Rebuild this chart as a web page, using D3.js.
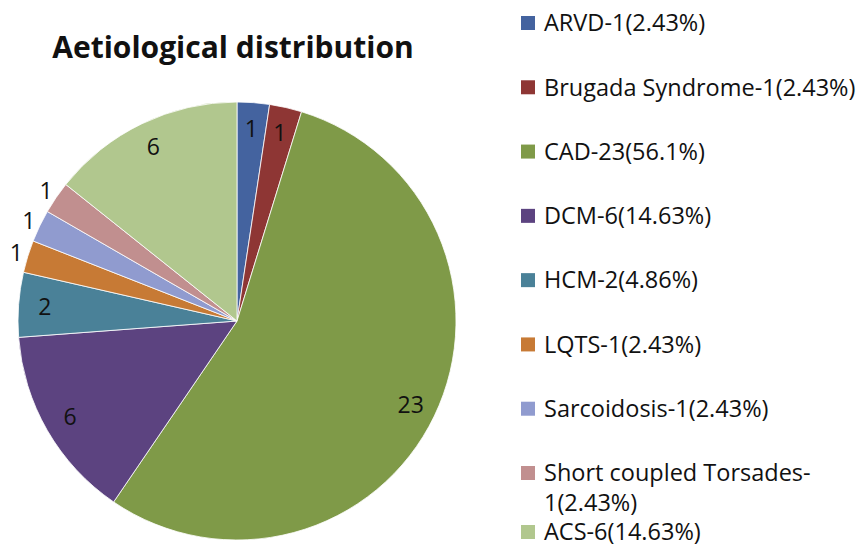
<!DOCTYPE html>
<html>
<head>
<meta charset="utf-8">
<script src="https://cdn.jsdelivr.net/npm/d3@7"></script>
<style>
  body { margin: 0; background: #fff; }
  text { font-family: "Open Sans", sans-serif; fill: #111; }
</style>
</head>
<body>
<svg id="chart" width="862" height="547"></svg>
<script>
// data
const categories = ['ARVD', 'Brugada Syndrome', 'CAD', 'DCM', 'HCM', 'LQTS', 'Sarcoidosis', 'Short coupled Torsades', 'ACS'];
const counts = [1, 1, 23, 6, 2, 1, 1, 1, 6];
const percentLabels = ['2.43%', '2.43%', '56.1%', '14.63%', '4.86%', '2.43%', '2.43%', '2.43%', '14.63%'];
const labelPlacement = ['in', 'in', 'in', 'in', 'in', 'out', 'out', 'out', 'in'];
const colors = ['#44639f', '#8e3634', '#7f9a48', '#5c4380', '#4a8198', '#c77a35', '#909bcf', '#c18f8f', '#b1c78e'];

const svg = d3.select('#chart');
const cx = 237, cy = 321, radius = 219;

svg.append('text')
  .attr('x', 233)
  .attr('y', 58)
  .attr('text-anchor', 'middle')
  .style('font-size', '30px')
  .style('font-weight', 'bold')
  .text('Aetiological distribution');

const pie = d3.pie().sort(null).value(d => d.value);
const arcs = pie(categories.map((c, i) => ({ name: c, value: counts[i], i })));
const arc = d3.arc().innerRadius(0).outerRadius(radius);

const g = svg.append('g').attr('transform', `translate(${cx},${cy})`);

g.selectAll('path.slice')
  .data(arcs)
  .enter()
  .append('path')
  .attr('class', 'slice')
  .attr('d', arc)
  .attr('fill', d => colors[d.data.i])
  .attr('stroke', '#fff')
  .attr('stroke-width', 0.8);

const inArc = d3.arc().innerRadius(radius * 0.88).outerRadius(radius * 0.88);
const outArc = d3.arc().innerRadius(radius * 1.055).outerRadius(radius * 1.055);

g.selectAll('text.lbl')
  .data(arcs)
  .enter()
  .append('text')
  .attr('class', 'lbl')
  .attr('transform', d => {
    const p = (labelPlacement[d.data.i] === 'out' ? outArc : inArc).centroid(d);
    return `translate(${p[0]},${p[1]})`;
  })
  .attr('text-anchor', 'middle')
  .attr('dy', '0.35em')
  .style('font-size', '23px')
  .text(d => d.data.value);

// legend
const legend = svg.append('g');
const rowY = d3.scalePoint().domain(d3.range(8)).range([23, 473]);
const legendItems = categories.map((c, i) => ({ i, lines: [`${c}-${counts[i]}(${percentLabels[i]})`] }));
legendItems[7].lines = ['Short coupled Torsades-', `${counts[7]}(${percentLabels[7]})`];

legendItems.forEach(item => {
  const y = item.i < 8 ? rowY(item.i) : 532;
  legend.append('rect')
    .attr('x', 521)
    .attr('y', y - 7)
    .attr('width', 14)
    .attr('height', 14)
    .attr('fill', colors[item.i]);
  item.lines.forEach((line, k) => {
    legend.append('text')
      .attr('x', 544)
      .attr('y', y + k * 30)
      .attr('dy', '0.35em')
      .style('font-size', '23.5px')
      .text(line);
  });
});
</script>
</body>
</html>
